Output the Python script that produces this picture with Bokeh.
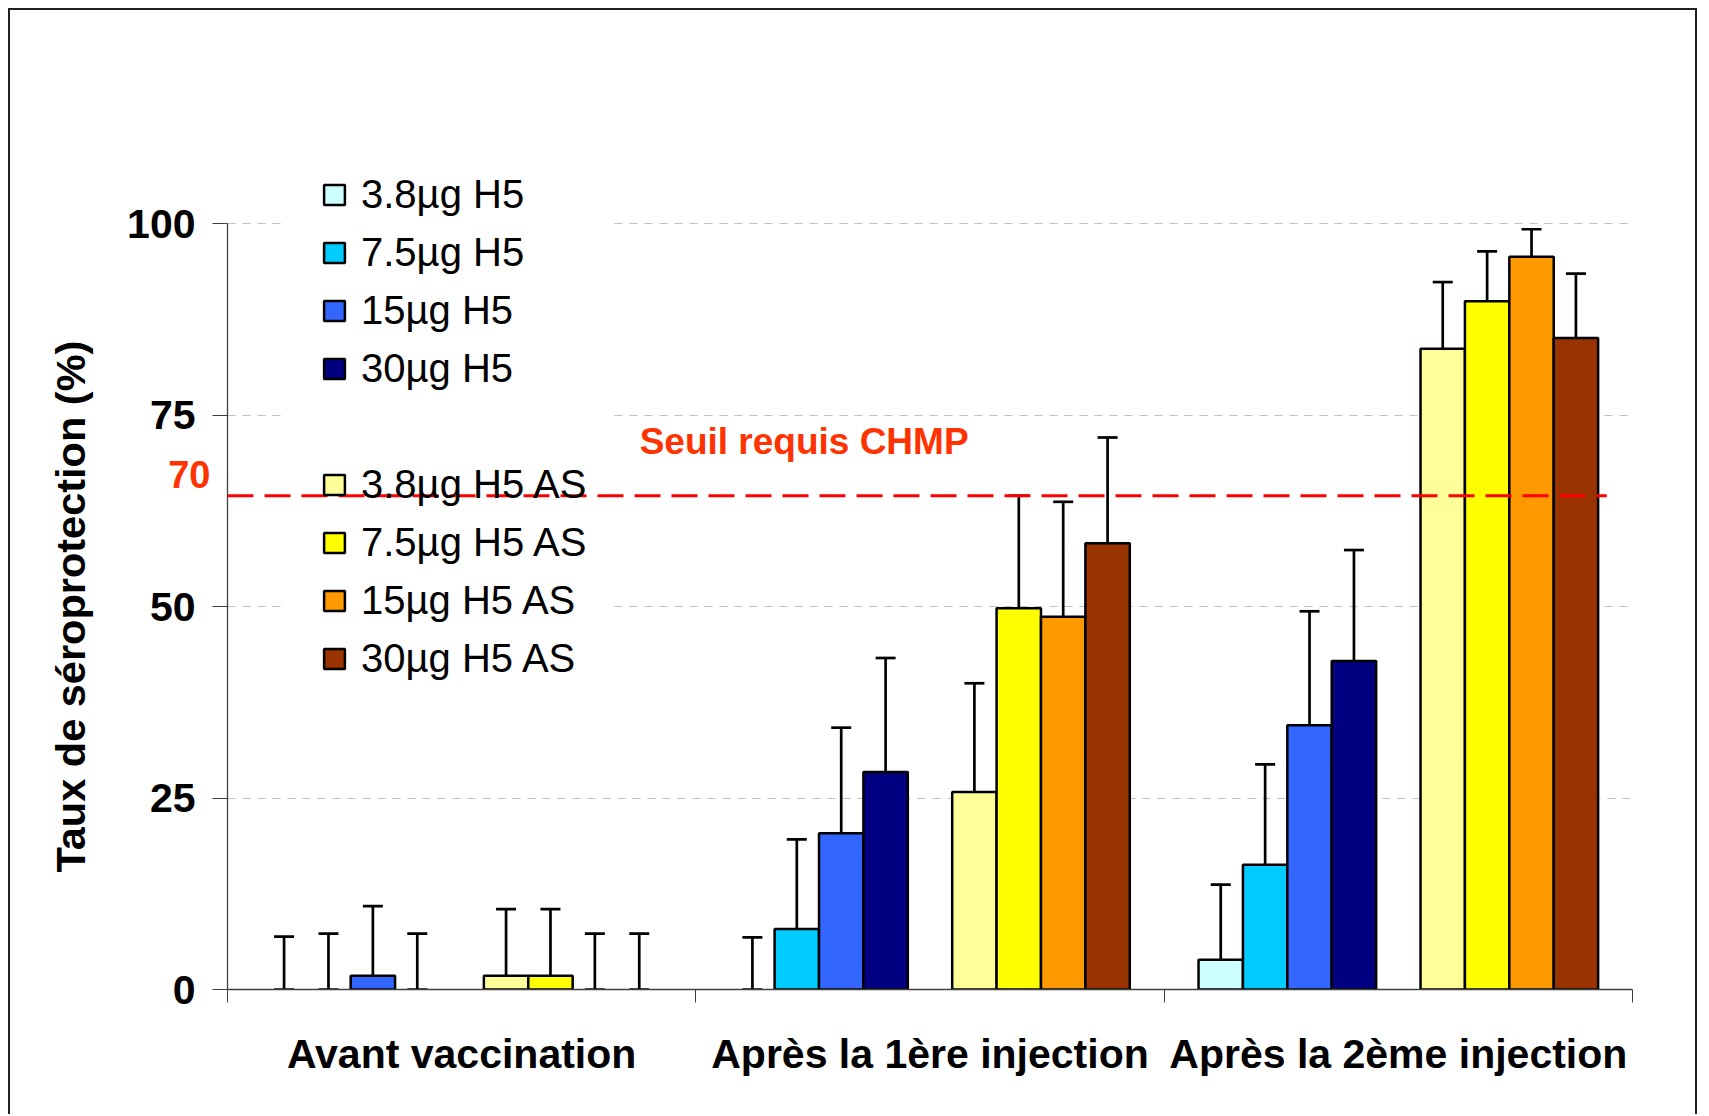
from bokeh.plotting import figure
from bokeh.models import (Range1d, FixedTicker, Legend, LegendItem, Whisker,
                          TeeHead, Label, ColumnDataSource, CDSView, IndexFilter,
                          LinearAxis, Title, Arrow, Grid, BoxAnnotation)
from bokeh.embed import file_html
from bokeh.resources import INLINE

# ---------------- data ----------------
CATEGORIES = ["Avant vaccination", "Après la 1ère injection", "Après la 2ème injection"]
SERIES = ["3.8µg H5", "7.5µg H5", "15µg H5", "30µg H5",
          "3.8µg H5 AS", "7.5µg H5 AS", "15µg H5 AS", "30µg H5 AS"]
COLORS = ["#CCFFFF", "#00CCFF", "#3366FF", "#000080",
          "#FFFF99", "#FFFF00", "#FF9900", "#993300"]

# values per series, one per category
V_38_H5 = [0.0, 0.0, 3.9]
V_75_H5 = [0.0, 7.9, 16.3]
V_15_H5 = [1.8, 20.4, 34.5]
V_30_H5 = [0.0, 28.4, 42.9]
V_38_AS = [1.8, 25.8, 83.7]
V_75_AS = [1.8, 49.8, 89.9]
V_15_AS = [0.0, 48.7, 95.7]
V_30_AS = [0.0, 58.3, 85.1]

# upper / lower confidence limits
U_38_H5 = [6.9, 6.8, 13.7]
U_75_H5 = [7.3, 19.6, 29.4]
U_15_H5 = [10.9, 34.2, 49.4]
U_30_H5 = [7.3, 43.3, 57.4]
U_38_AS = [10.5, 40.0, 92.4]
U_75_AS = [10.5, 64.5, 96.4]
U_15_AS = [7.3, 63.7, 99.3]
U_30_AS = [7.3, 72.1, 93.5]

L_38_H5 = [0.0, 0.0, 0.2]
L_75_H5 = [0.0, 2.1, 7.1]
L_15_H5 = [0.0, 10.1, 21.4]
L_30_H5 = [0.0, 16.3, 28.7]
L_38_AS = [0.0, 14.5, 70.5]
L_75_AS = [0.0, 35.3, 77.9]
L_15_AS = [0.0, 34.2, 85.8]
L_30_AS = [0.0, 42.9, 72.0]

Y_TICKS = [0, 25, 50, 75, 100]
Y_TICKS_FULL_GRID = [0, 25]          # grid lines not hidden by the legend box
Y_TICKS_BROKEN_GRID = [50, 75, 100]  # grid lines interrupted by the legend box
THRESHOLD_LABEL = "70"
THRESHOLD_LABEL_Y = 67.3    # where the red "70" sits in the picture
THRESHOLD_Y = 64.5          # where the dashed line sits in the picture
THRESHOLD_TEXT = "Seuil requis CHMP"
Y_LABEL = "Taux de séroprotection (%)"

VALUES = [V_38_H5, V_75_H5, V_15_H5, V_30_H5, V_38_AS, V_75_AS, V_15_AS, V_30_AS]
UPPERS = [U_38_H5, U_75_H5, U_15_H5, U_30_H5, U_38_AS, U_75_AS, U_15_AS, U_30_AS]
LOWERS = [L_38_H5, L_75_H5, L_15_H5, L_30_H5, L_38_AS, L_75_AS, L_15_AS, L_30_AS]

# ---------------- layout ----------------
FONT = "Liberation Sans"
BAR_W = 0.0948
SLOTS = [-4, -3, -2, -1, 1, 2, 3, 4]
AXIS_COLOR = "#404040"
GRID_COLOR = "#c0c0c0"
LEGEND_BOX_X = (0.115, 0.826)   # horizontal extent of the legend's white box
LEGEND_BOX_Y = (35, 112)

p = figure(width=1689, height=1106, output_backend="svg", toolbar_location=None,
           x_range=Range1d(0, 3), y_range=Range1d(0, 125),
           min_border_left=217, min_border_right=67,
           min_border_top=22, min_border_bottom=127)
p.styles = {"position": "absolute", "left": "8px", "top": "8px",
            "border-left": "2px solid #222", "border-top": "2px solid #222",
            "border-right": "2px solid #222"}
p.outline_line_color = None
p.background_fill_color = "white"
p.border_fill_color = "white"

# grid
p.xgrid.visible = False
p.ygrid.ticker = FixedTicker(ticks=Y_TICKS_FULL_GRID)
p.ygrid.grid_line_color = GRID_COLOR
p.ygrid.grid_line_dash = "8 7"
p.ygrid.grid_line_width = 1

use_cross = "cross_bounds" in Grid.properties()
if use_cross:
    for xb in [(0, LEGEND_BOX_X[0]), (LEGEND_BOX_X[1], 3)]:
        g = Grid(dimension=1, ticker=FixedTicker(ticks=Y_TICKS_BROKEN_GRID),
                 cross_bounds=xb, grid_line_color=GRID_COLOR,
                 grid_line_dash="8 7", grid_line_width=1)
        p.add_layout(g)
else:
    p.ygrid.ticker = FixedTicker(ticks=Y_TICKS)

renderers = []
for k, name in enumerate(SERIES):
    xs = [i + 0.5 + SLOTS[k] * BAR_W for i in range(len(CATEGORIES))]
    src = ColumnDataSource(dict(x=xs, top=VALUES[k], upper=UPPERS[k], lower=LOWERS[k]))
    nonzero = [i for i, v in enumerate(VALUES[k]) if v > 0]
    r = p.vbar(x="x", top="top", bottom=0, width=BAR_W, source=src,
               view=CDSView(filter=IndexFilter(nonzero)),
               fill_color=COLORS[k], line_color="black", line_width=2.5)
    renderers.append(r)
    w = Whisker(base="x", upper="upper", lower="lower", source=src,
                dimension="height", line_color="black", line_width=2.7,
                upper_head=TeeHead(size=20, line_width=2.7, line_color="black"),
                lower_head=TeeHead(size=20, line_width=2.7, line_color="black"))
    p.add_layout(w)

if not use_cross:
    p.add_layout(BoxAnnotation(left=LEGEND_BOX_X[0], right=LEGEND_BOX_X[1],
                               bottom=LEGEND_BOX_Y[0], top=LEGEND_BOX_Y[1],
                               fill_color="white", fill_alpha=1.0, line_color=None))

# invisible spacer for legend gap
spacer = p.vbar(x=[], top=[], width=BAR_W, fill_alpha=0, line_alpha=0)

items = [LegendItem(label=SERIES[k], renderers=[renderers[k]]) for k in range(4)]
items.append(LegendItem(label=" ", renderers=[spacer]))
items += [LegendItem(label=SERIES[k], renderers=[renderers[k]]) for k in range(4, 8)]

legend = Legend(items=items, location=(53, 261), orientation="vertical",
                background_fill_alpha=0.0,
                border_line_color="white", border_line_alpha=0.01, border_line_width=1,
                padding=40, spacing=1, margin=0,
                glyph_width=26, glyph_height=25, label_standoff=14,
                label_height=57, label_text_font=FONT,
                label_text_font_size="40px", label_text_color="black")
p.add_layout(legend)

# threshold line
thr = Arrow(x_start=0, y_start=THRESHOLD_Y, x_end=2.945, y_end=THRESHOLD_Y,
            start=None, end=None, line_color="#FF0000", line_width=3,
            line_dash="26 11", level="overlay")
p.add_layout(thr)

p.add_layout(Label(x=0.88, y=71.6, text=THRESHOLD_TEXT, text_font=FONT,
                   text_font_style="bold", text_font_size="37px",
                   text_color="#FF3300", text_align="left",
                   text_baseline="alphabetic"))

# x axis
xa = p.xaxis[0]
xa.ticker = FixedTicker(ticks=[i + 0.5 for i in range(len(CATEGORIES))],
                        minor_ticks=list(range(len(CATEGORIES) + 1)))
xa.major_label_overrides = {i + 0.5: c for i, c in enumerate(CATEGORIES)}
xa.major_tick_in = 0
xa.major_tick_out = 0
xa.minor_tick_in = 0
xa.minor_tick_out = 13
xa.minor_tick_line_color = AXIS_COLOR
xa.axis_line_color = AXIS_COLOR
xa.axis_line_width = 1.3
xa.major_label_standoff = 28
xa.major_label_text_font = FONT
xa.major_label_text_font_style = "bold"
xa.major_label_text_font_size = "41px"
xa.major_label_text_color = "black"

# inner y axis: axis line, tick marks and the red "70"
ya = p.yaxis[0]
ya.ticker = FixedTicker(ticks=[THRESHOLD_LABEL_Y], minor_ticks=Y_TICKS)
ya.major_label_overrides = {THRESHOLD_LABEL_Y: THRESHOLD_LABEL}
ya.bounds = (0, 100)
ya.major_tick_in = 0
ya.major_tick_out = 0
ya.major_tick_line_color = None
ya.minor_tick_in = 0
ya.minor_tick_out = 15
ya.minor_tick_line_color = AXIS_COLOR
ya.axis_line_color = AXIS_COLOR
ya.axis_line_width = 1.3
ya.major_label_standoff = 2
ya.major_label_text_font = FONT
ya.major_label_text_font_style = "bold"
ya.major_label_text_font_size = "38px"
ya.major_label_text_color = "#FF3300"

# outer y axis: the black tick labels
yb = LinearAxis(ticker=FixedTicker(ticks=Y_TICKS, minor_ticks=[]))
yb.axis_line_color = None
yb.major_tick_line_color = None
yb.minor_tick_line_color = None
yb.major_tick_in = 0
yb.major_tick_out = 0
yb.minor_tick_out = 0
yb.major_label_standoff = -30
yb.major_label_text_font = FONT
yb.major_label_text_font_style = "bold"
yb.major_label_text_font_size = "41px"
yb.major_label_text_color = "black"
p.add_layout(yb, "left")

p.add_layout(Title(text=Y_LABEL, align="left", offset=117, standoff=62,
                   text_font=FONT, text_font_style="bold",
                   text_font_size="41.5px", text_color="black"), "left")

open("out.html", "w").write(file_html(p, INLINE))
